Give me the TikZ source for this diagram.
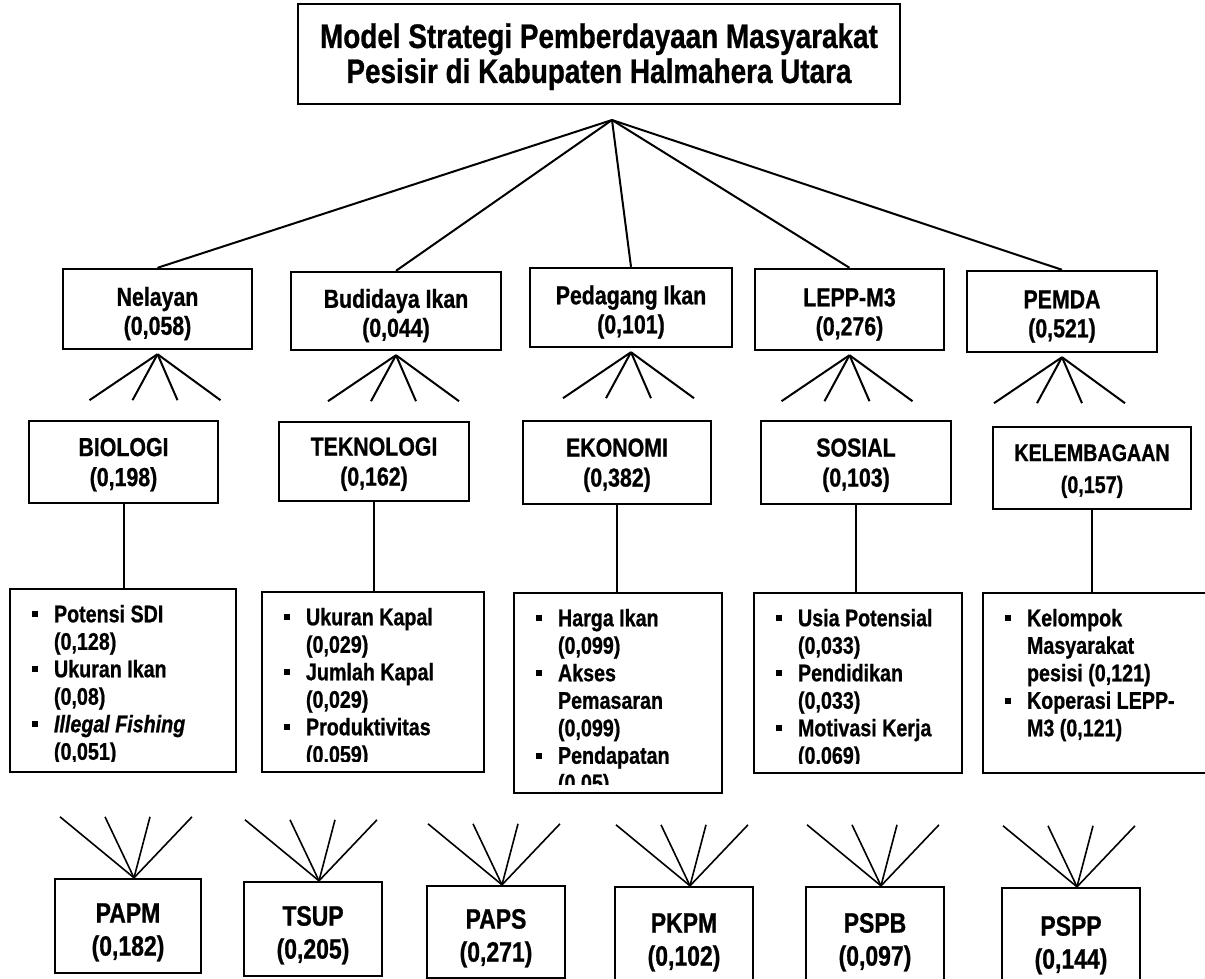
\documentclass[tikz,border=0pt]{standalone}
\usepackage{fontspec}
\setmainfont[FakeStretch=0.82,BoldFeatures={FakeBold=0.8},BoldItalicFeatures={FakeBold=0.8}]{Liberation Sans}
\usepackage{tikz}
\usetikzlibrary{calc}

\newcommand{\topgap}[1]{\rule{0pt}{#1}}
\newcommand{\sqb}{\rule[5pt]{6pt}{6pt}}

\begin{document}
\begin{tikzpicture}[x=1pt,y=-1pt,
  box/.style={draw,line width=2.4pt,inner sep=0pt,align=center},
  actor/.style={box,font=\bfseries\fontsize{26}{29}\selectfont},
  crit/.style={box,font=\bfseries\fontsize{26}{30}\selectfont},
  alt/.style={box,font=\bfseries\fontsize{28}{33}\selectfont},
  subbox/.style={draw,line width=2.4pt,inner sep=0pt},
  sublist/.style={anchor=north west,inner sep=0pt,font=\bfseries\fontsize{24}{27.5}\selectfont},
  link/.style={line width=2pt},
  fan/.style={line width=2pt},
  fanb/.style={line width=1.6pt}]
\path[use as bounding box,clip] (0,0) rectangle (1205,979);

% goal
\node[box,font=\bfseries\fontsize{34}{35}\selectfont,minimum width=602pt,minimum height=100pt] (title) at (599,54)
  {\topgap{30pt}Model Strategi Pemberdayaan Masyarakat\\Pesisir di Kabupaten Halmahera Utara};
\coordinate (apex) at (612,120);

% actors
\node[actor,minimum width=189pt,minimum height=80pt] (nel) at (157.5,309) {\topgap{28pt}Nelayan\\(0,058)};
\node[actor,minimum width=210pt,minimum height=78pt] (bud) at (396,311) {\topgap{28pt}Budidaya Ikan\\(0,044)};
\node[actor,minimum width=202pt,minimum height=79pt] (ped) at (631,307.5) {\topgap{28pt}Pedagang Ikan\\(0,101)};
\node[actor,minimum width=189pt,minimum height=81pt] (lepp) at (849.5,309.5) {\topgap{28pt}LEPP-M3\\(0,276)};
\node[actor,minimum width=190pt,minimum height=81pt] (pemda) at (1062,311.5) {\topgap{28pt}PEMDA\\(0,521)};

\foreach \n in {nel,bud,ped,lepp,pemda}
  \draw[link] (apex) -- (\n.north);
\foreach \n in {nel,bud,ped,lepp,pemda}
  \foreach \dx in {-68,-25,20,63}
    \draw[fan] ($(\n.south)+(0,4)$) -- ++(\dx,46);

% criteria
\node[crit,minimum width=189pt,minimum height=82pt] (bio) at (123.5,462) {\topgap{23.5pt}BIOLOGI\\(0,198)};
\node[crit,minimum width=190pt,minimum height=79pt] (tek) at (374,461.5) {\topgap{23.5pt}TEKNOLOGI\\(0,162)};
\node[crit,minimum width=188pt,minimum height=83pt] (eko) at (617,462.5) {\topgap{23.5pt}EKONOMI\\(0,382)};
\node[crit,minimum width=190pt,minimum height=83pt] (sos) at (856,462.5) {\topgap{23.5pt}SOSIAL\\(0,103)};
\node[crit,font=\bfseries\fontsize{24}{32}\selectfont,minimum width=198pt,minimum height=82pt] (kel) at (1092,468)
  {\topgap{23pt}KELEMBAGAAN\\(0,157)};

% sub-criteria
\node[subbox,minimum width=226pt,minimum height=183pt] (bio-sub) at (123,680.5) {};
\node[subbox,minimum width=222pt,minimum height=180pt] (tek-sub) at (373,682) {};
\node[subbox,minimum width=208pt,minimum height=200pt] (eko-sub) at (618,693) {};
\node[subbox,minimum width=208pt,minimum height=180pt] (sos-sub) at (858,683) {};
\node[subbox,minimum width=232pt,minimum height=180pt] (kel-sub) at (1099,683) {};

\foreach \n in {bio,tek,eko,sos,kel}
  \draw[link] (\n.south) -- (\n.south |- \n-sub.north);

\begin{scope}
\clip (bio-sub.north west) rectangle ($(bio-sub.south east)+(0,-12)$);
\node[sublist] (bio-txt) at ($(bio-sub.north west)+(23,15)$) {%
  \begin{tabular}{@{}l@{\hspace{16pt}}l@{}}
  \sqb & Potensi SDI\\ & (0,128)\\
  \sqb & Ukuran Ikan\\ & (0,08)\\
  \sqb & \textit{Illegal Fishing}\\ & (0,051)
  \end{tabular}};
\end{scope}
\begin{scope}
\clip (tek-sub.north west) rectangle ($(tek-sub.south east)+(0,-12)$);
\node[sublist] (tek-txt) at ($(tek-sub.north west)+(23,15)$) {%
  \begin{tabular}{@{}l@{\hspace{16pt}}l@{}}
  \sqb & Ukuran Kapal\\ & (0,029)\\
  \sqb & Jumlah Kapal\\ & (0,029)\\
  \sqb & Produktivitas\\ & (0,059)
  \end{tabular}};
\end{scope}
\begin{scope}
\clip (eko-sub.north west) rectangle ($(eko-sub.south east)+(0,-10)$);
\node[sublist] (eko-txt) at ($(eko-sub.north west)+(23,15)$) {%
  \begin{tabular}{@{}l@{\hspace{16pt}}l@{}}
  \sqb & Harga Ikan\\ & (0,099)\\
  \sqb & Akses\\ & Pemasaran\\ & (0,099)\\
  \sqb & Pendapatan\\ & (0,05)
  \end{tabular}};
\end{scope}
\begin{scope}
\clip (sos-sub.north west) rectangle ($(sos-sub.south east)+(0,-11)$);
\node[sublist] (sos-txt) at ($(sos-sub.north west)+(23,15)$) {%
  \begin{tabular}{@{}l@{\hspace{16pt}}l@{}}
  \sqb & Usia Potensial\\ & (0,033)\\
  \sqb & Pendidikan\\ & (0,033)\\
  \sqb & Motivasi Kerja\\ & (0,069)
  \end{tabular}};
\end{scope}
\node[sublist] (kel-txt) at ($(kel-sub.north west)+(23,15)$) {%
  \begin{tabular}{@{}l@{\hspace{16pt}}l@{}}
  \sqb & Kelompok\\ & Masyarakat\\ & pesisi (0,121)\\
  \sqb & Koperasi LEPP-\\ & M3 (0,121)
  \end{tabular}};

% alternatives
\node[alt,minimum width=146pt,minimum height=94pt] (papm) at (128,926) {\topgap{32pt}PAPM\\(0,182)};
\node[alt,minimum width=138pt,minimum height=94pt] (tsup) at (313,929) {\topgap{32pt}TSUP\\(0,205)};
\node[alt,minimum width=138pt,minimum height=92pt] (paps) at (496,932) {\topgap{32pt}PAPS\\(0,271)};
\node[alt,minimum width=138pt,minimum height=98pt] (pkpm) at (684,936) {\topgap{32pt}PKPM\\(0,102)};
\node[alt,minimum width=138pt,minimum height=98pt] (pspb) at (875,936) {\topgap{32pt}PSPB\\(0,097)};
\node[alt,minimum width=138pt,minimum height=102pt] (pspp) at (1071,939) {\topgap{32pt}PSPP\\(0,144)};

\foreach \n in {papm,tsup,paps,pkpm,pspb,pspp}
  \foreach \dx in {-74,-29,16,58}
    \draw[fanb] ([xshift=6pt]\n.north) -- ++(\dx,-61);
\end{tikzpicture}
\end{document}
